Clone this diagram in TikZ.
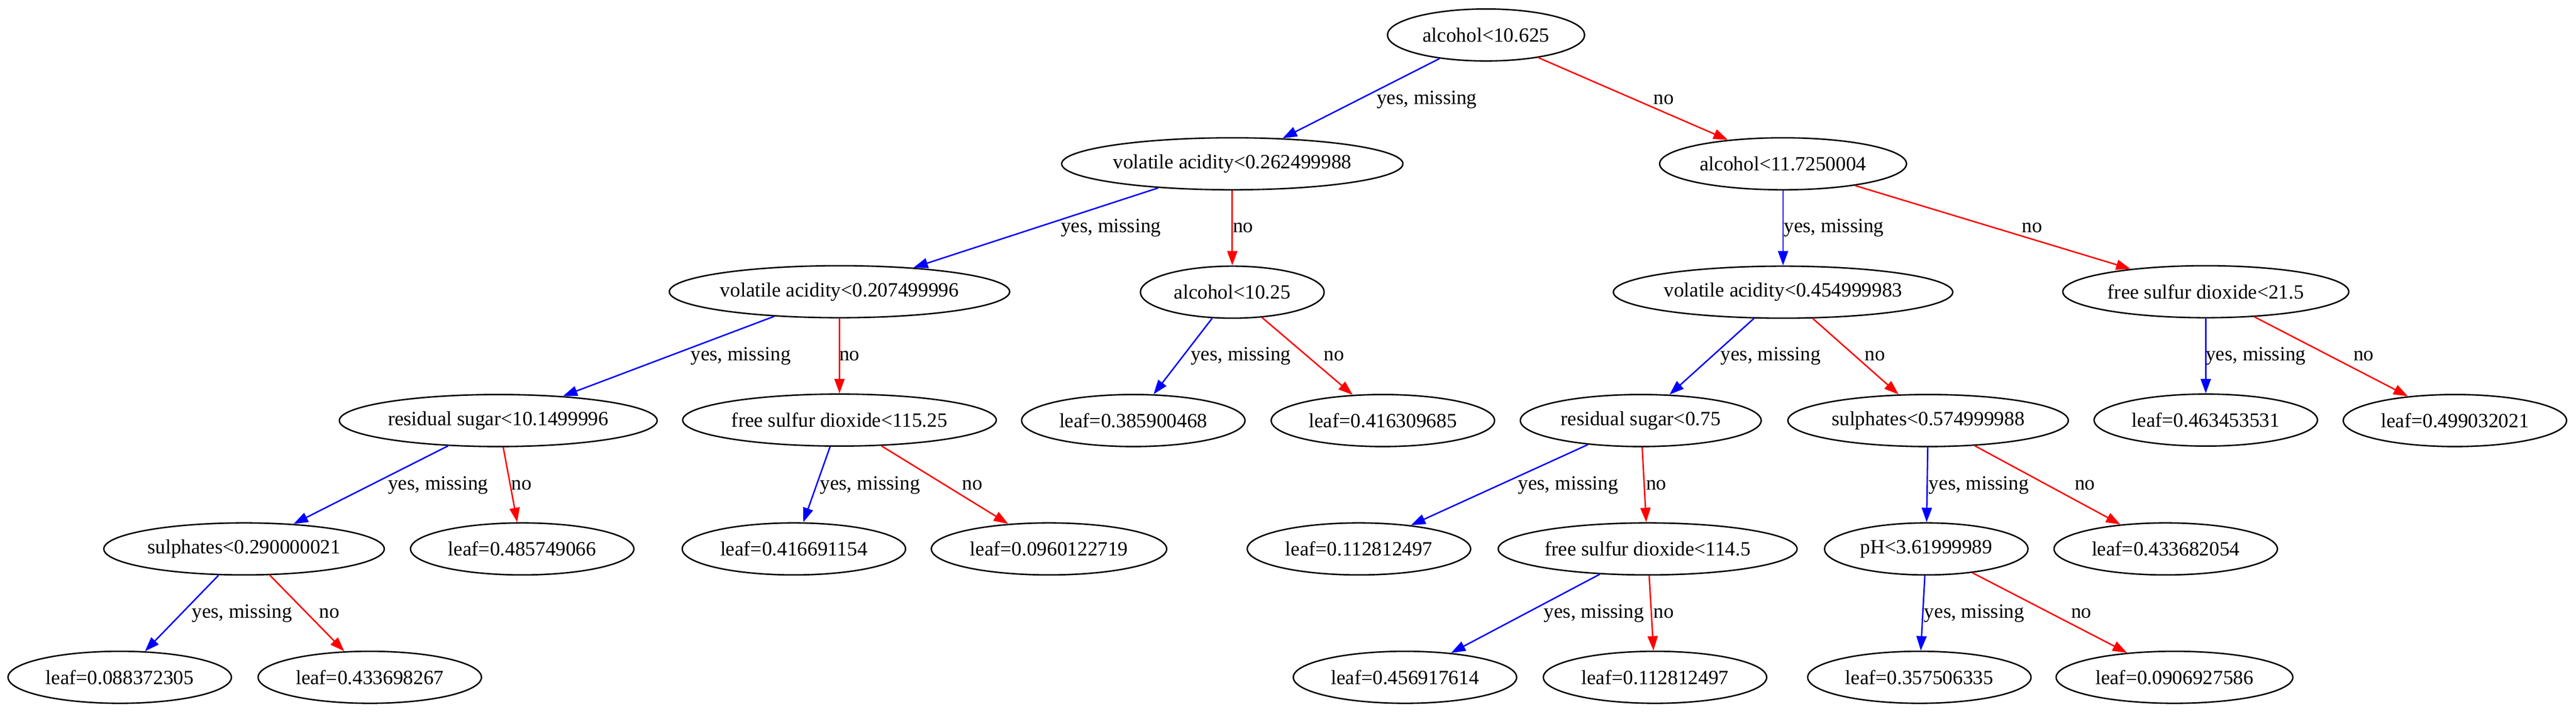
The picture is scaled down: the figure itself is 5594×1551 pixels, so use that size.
\documentclass[tikz,border=0pt]{standalone}
\usepackage{fontspec}
\setmainfont{Liberation Serif}
\usetikzlibrary{positioning,shapes.geometric,arrows.meta}

\begin{document}
\begin{tikzpicture}[
		x=0.3185pt, y=-0.3185pt,
		node distance=88.86pt,
		main/.style = {draw, ellipse, line width=1pt, inner sep=0pt, minimum height=36pt, font=\fontsize{14pt}{16.8pt}\selectfont},
		wd/.style = {minimum width=#1*0.3185pt},
		leaf/.style = {main, wd=485},
		lab/.style = {anchor=west, inner sep=0pt, text height=9.5pt, text depth=3pt, font=\fontsize{14pt}{16.8pt}\selectfont},
		yesedge/.style = {draw=blue, line width=1pt, -{Triangle[length=10pt,width=7pt]}},
		noedge/.style = {draw=red, line width=1pt, -{Triangle[length=10pt,width=7pt]}}
	]
	\useasboundingbox (0,0) rectangle (5594,1551);
	% Level 0.
	\node[main, wd=428] (root) at (3227,76) {alcohol<10.625};
	% Level 1.
	\node[main, wd=741] (va262) at (2676,356) {volatile acidity<0.262499988};
	\node[main, wd=536] (alc117) at (3872,356) {alcohol<11.7250004};
	% Level 2.
	\node[main, wd=739] (va207) at (1823,634) {volatile acidity<0.207499996};
	\node[main, wd=399, below of=va262] (alc1025) {alcohol<10.25};
	\node[main, wd=737, below of=alc117] (va454) {volatile acidity<0.454999983};
	\node[main, wd=621] (fsd215) at (4790,634) {free sulfur dioxide<21.5};
	% Level 3.
	\node[main, wd=690] (rs1015) at (1082,914) {residual sugar<10.1499996};
	\node[main, wd=681, below of=va207] (fsd11525) {free sulfur dioxide<115.25};
	\node[leaf] (lf3859) at (2461,914) {leaf=0.385900468};
	\node[leaf] (lf4163) at (3003,914) {leaf=0.416309685};
	\node[main, wd=523] (rs075) at (3563,914) {residual sugar<0.75};
	\node[main, wd=609] (sul575) at (4187,914) {sulphates<0.574999988};
	\node[leaf, below of=fsd215] (lf4634) {leaf=0.463453531};
	\node[leaf] (lf4990) at (5331,914) {leaf=0.499032021};
	% Level 4.
	\node[main, wd=609] (sul29) at (530,1193) {sulphates<0.290000021};
	\node[leaf] (lf4857) at (1134,1193) {leaf=0.485749066};
	\node[leaf] (lf4166) at (1724,1193) {leaf=0.416691154};
	\node[leaf, wd=511] (lf0960) at (2278,1193) {leaf=0.0960122719};
	\node[leaf] (lf1128a) at (2951,1193) {leaf=0.112812497};
	\node[main, wd=649] (fsd1145) at (3578,1193) {free sulfur dioxide<114.5};
	\node[main, wd=442] (ph) at (4183,1193) {pH<3.61999989};
	\node[leaf] (lf4336) at (4703,1193) {leaf=0.433682054};
	% Level 5.
	\node[leaf] (lf0883) at (260,1472) {leaf=0.088372305};
	\node[leaf] (lf4337) at (803,1472) {leaf=0.433698267};
	\node[leaf] (lf4569) at (3051,1472) {leaf=0.456917614};
	\node[leaf] (lf1128b) at (3594,1472) {leaf=0.112812497};
	\node[leaf] (lf3575) at (4168,1472) {leaf=0.357506335};
	\node[leaf, wd=514] (lf0906) at (4722,1472) {leaf=0.0906927586};

	% Edge labels.
	\node[lab] (yva262) at (2989,216) {yes, missing};
	\node[lab] (nalc117) at (3590,216) {no};
	\node[lab] (yva207) at (2303,495) {yes, missing};
	\node[lab] (nalc1025) at (2677,495) {no};
	\node[lab] (yva454) at (3873,495) {yes, missing};
	\node[lab] (nfsd215) at (4390,495) {no};
	\node[lab] (yrs1015) at (1499,774) {yes, missing};
	\node[lab] (nfsd11525) at (1822,774) {no};
	\node[lab] (ylf3859) at (2585,774) {yes, missing};
	\node[lab] (nlf4163) at (2874,774) {no};
	\node[lab] (yrs075) at (3736,774) {yes, missing};
	\node[lab] (nsul575) at (4049,774) {no};
	\node[lab] (ylf4634) at (4789,774) {yes, missing};
	\node[lab] (nlf4990) at (5110,774) {no};
	\node[lab] (ysul29) at (842,1054) {yes, missing};
	\node[lab] (nlf4857) at (1110,1054) {no};
	\node[lab] (ylf4166) at (1780,1054) {yes, missing};
	\node[lab] (nlf0960) at (2089,1054) {no};
	\node[lab] (ylf1128a) at (3296,1054) {yes, missing};
	\node[lab] (nfsd1145) at (3574,1054) {no};
	\node[lab] (yph) at (4188,1054) {yes, missing};
	\node[lab] (nlf4336) at (4505,1054) {no};
	\node[lab] (ylf0883) at (416,1333) {yes, missing};
	\node[lab] (nlf4337) at (693,1333) {no};
	\node[lab] (ylf4569) at (3352,1333) {yes, missing};
	\node[lab] (nlf1128b) at (3590,1333) {no};
	\node[lab] (ylf3575) at (4178,1333) {yes, missing};
	\node[lab] (nlf0906) at (4497,1333) {no};

	\draw[yesedge] (root) to (va262);
	\draw[noedge] (root) to (alc117);
	\draw[yesedge] (va262) to (va207);
	\draw[noedge] (va262) to (alc1025);
	\draw[yesedge] (alc117) to (va454);
	\draw[noedge] (alc117) to (fsd215);
	\draw[yesedge] (va207) to (rs1015);
	\draw[noedge] (va207) to (fsd11525);
	\draw[yesedge] (alc1025) to (lf3859);
	\draw[noedge] (alc1025) to (lf4163);
	\draw[yesedge] (va454) to (rs075);
	\draw[noedge] (va454) to (sul575);
	\draw[yesedge] (fsd215) to (lf4634);
	\draw[noedge] (fsd215) to (lf4990);
	\draw[yesedge] (rs1015) to (sul29);
	\draw[noedge] (rs1015) to (lf4857);
	\draw[yesedge] (fsd11525) to (lf4166);
	\draw[noedge] (fsd11525) to (lf0960);
	\draw[yesedge] (rs075) to (lf1128a);
	\draw[noedge] (rs075) to (fsd1145);
	\draw[yesedge] (sul575) to (ph);
	\draw[noedge] (sul575) to (lf4336);
	\draw[yesedge] (sul29) to (lf0883);
	\draw[noedge] (sul29) to (lf4337);
	\draw[yesedge] (fsd1145) to (lf4569);
	\draw[noedge] (fsd1145) to (lf1128b);
	\draw[yesedge] (ph) to (lf3575);
	\draw[noedge] (ph) to (lf0906);
\end{tikzpicture}
\end{document}
